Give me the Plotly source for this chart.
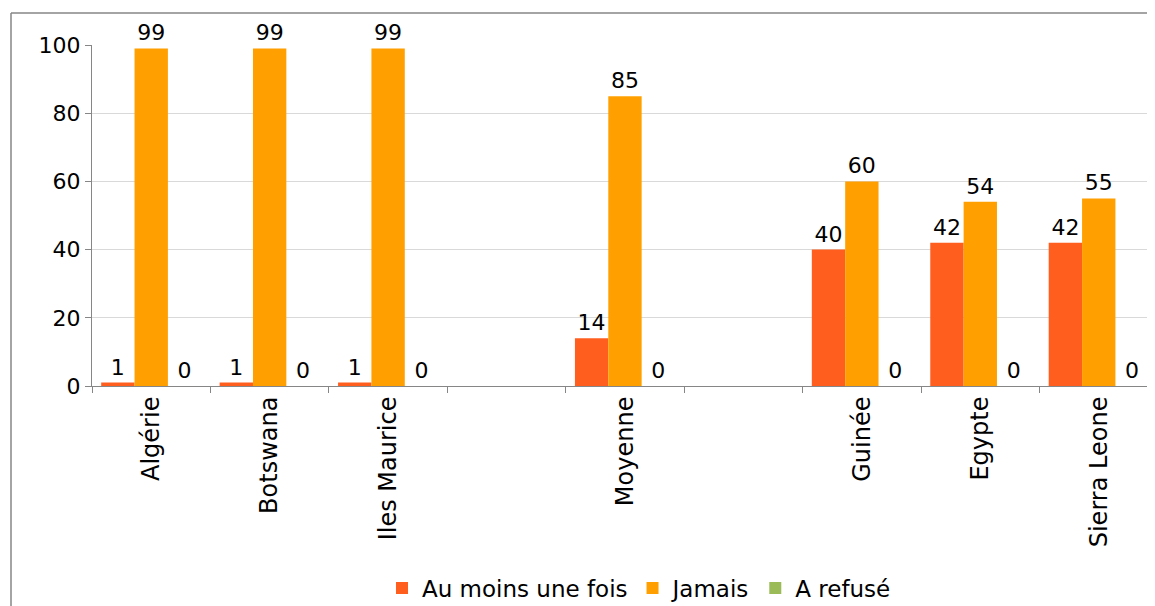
import plotly.graph_objects as go

categories = ["Algérie", "Botswana", "Iles Maurice", " ", "Moyenne", "  ", "Guinée", "Egypte", "Sierra Leone"]
au_moins = [1, 1, 1, None, 14, None, 40, 42, 42]
jamais = [99, 99, 99, None, 85, None, 60, 54, 55]
refuse = [0, 0, 0, None, 0, None, 0, 0, 0]

series = [
    ("Au moins une fois", au_moins, "#FF5E1F"),
    ("Jamais", jamais, "#FFA000"),
    ("A refusé", refuse, "#9BBB59"),
]

FONT = "DejaVu Sans"
FS = 22
OFF = 8  # default page body margin
fig = go.Figure()
for name, vals, col in series:
    fig.add_trace(go.Bar(
        x=categories, y=vals, name=name, marker=dict(color=col, line=dict(width=0)),
        text=[("" if v is None else str(v)) for v in vals], textposition="outside",
        textfont=dict(size=FS, color="#000000", family=FONT), cliponaxis=False,
    ))

W, H = 1155 - OFF, 606 - OFF
L, T, BOT = 92, 45, 386
mL, mT = L - OFF, T - OFF
mB = H - (BOT - OFF)
mR = 0
pw, ph = W - mL - mR, H - mT - mB

def px(x):
    return (x - OFF - mL) / pw

def py(y):
    return (H - mB - (y - OFF)) / ph

fig.update_layout(
    width=W, height=H, margin=dict(l=mL, r=mR, t=mT, b=mB, autoexpand=False),
    paper_bgcolor="white", plot_bgcolor="white",
    barmode="group", bargap=0.155, bargroupgap=0,
    font=dict(family=FONT, size=FS, color="#000000"),
    showlegend=True,
    legend=dict(orientation="h", x=px(639), xanchor="center", y=py(588), yanchor="middle",
                font=dict(size=23, family=FONT), itemwidth=30, traceorder="normal"),
    xaxis=dict(type="category", range=[-0.5, 8.475], tickangle=-90, showline=True,
               linecolor="#868686", linewidth=1, ticks="outside", ticklen=6, tickcolor="#868686",
               tickson="boundaries", showgrid=False, tickfont=dict(size=24, family=FONT)),
    yaxis=dict(range=[0, 100], dtick=20, showline=True, linecolor="#868686", ticks="outside",
               ticklen=6, tickcolor="#868686", gridcolor="#D9D9D9", zeroline=False,
               tickfont=dict(size=FS, family=FONT)),
    shapes=[
        dict(type="line", xref="paper", yref="paper", x0=px(11), x1=px(11), y0=py(606), y1=py(13),
             line=dict(color="#868686", width=1.5), layer="below"),
        dict(type="line", xref="paper", yref="paper", x0=px(11), x1=1.0, y0=py(13), y1=py(13),
             line=dict(color="#868686", width=1.5), layer="below"),
    ],
)

fig.write_html("out.html")
